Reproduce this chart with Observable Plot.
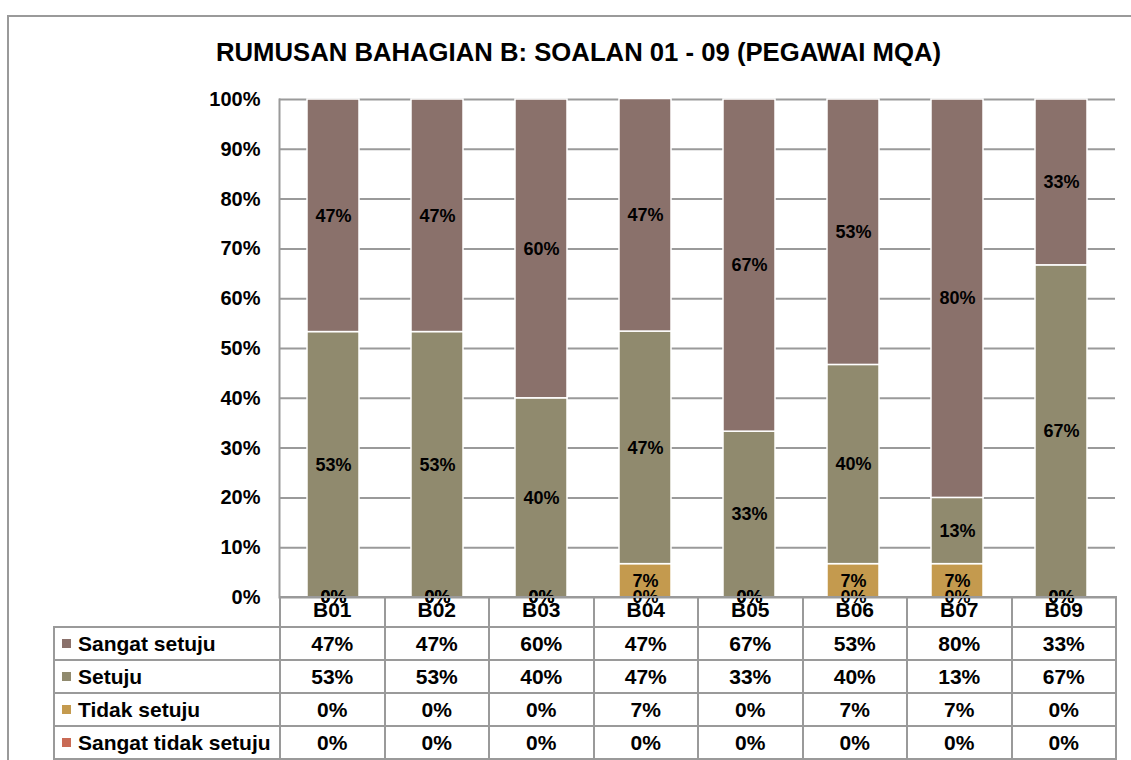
<!DOCTYPE html>
<html>
<head>
<meta charset="utf-8">
<script src="https://cdn.jsdelivr.net/npm/d3@7"></script>
<script src="https://cdn.jsdelivr.net/npm/@observablehq/plot@0.6"></script>
<style>
  html, body { margin: 0; padding: 0; background: #fff; }
  body { font-family: "Liberation Sans", Arial, sans-serif; }
  #wrap { position: relative; width: 1131px; height: 760px; overflow: hidden; }
  #frame { position: absolute; left: 7px; top: 15px; width: 1140px; height: 800px; border: 2px solid #9a9a9a; box-sizing: border-box; }
  #title { position: absolute; left: 8px; width: 1141px; top: 36px; text-align: center; font-weight: bold; font-size: 25.7px; color: #000; line-height: 32px; }
  #chart { position: absolute; left: 0; top: 0; }
  #chart svg { overflow: visible; }
  #tbl { position: absolute; left: 53px; top: 596px; border-collapse: collapse; table-layout: fixed; font-weight: bold; font-size: 21px; color: #000; }
  #tbl td { border: 2px solid #9a9a9a; padding: 0; text-align: center; white-space: nowrap; overflow: visible; }
  #tbl tr.head td { height: 26px; line-height: 20px; vertical-align: top; padding-top: 2px; padding-bottom: 0; }
  #tbl tr.head td.blank { border: none; border-bottom: 2px solid #9a9a9a; }
  #tbl tr.row td { height: 31px; }
  #tbl td.lab { text-align: left; padding-left: 7px; }
  .sw { display: inline-block; width: 9px; height: 9px; margin-right: 7px; vertical-align: 3px; }
</style>
</head>
<body>
<div id="wrap">
  <div id="frame"></div>
  <div id="chart"></div>
  <div id="title">RUMUSAN BAHAGIAN B: SOALAN 01 - 09 (PEGAWAI MQA)</div>
  <table id="tbl"></table>
</div>
<script>
const categories = ["B01", "B02", "B03", "B04", "B05", "B06", "B07", "B09"];
const seriesNames = ["Sangat setuju", "Setuju", "Tidak setuju", "Sangat tidak setuju"];
const seriesColors = ["#8a716b", "#908a6e", "#c49a4e", "#c96a55"];
const sangatSetuju = [46.7, 46.7, 60, 46.7, 66.7, 53.3, 80, 33.3];
const setuju = [53.3, 53.3, 40, 46.7, 33.3, 40, 13.3, 66.7];
const tidakSetuju = [0, 0, 0, 6.7, 0, 6.7, 6.7, 0];
const sangatTidakSetuju = [0, 0, 0, 0, 0, 0, 0, 0];
const yTicks = [0, 10, 20, 30, 40, 50, 60, 70, 80, 90, 100];

const seriesValues = [sangatSetuju, setuju, tidakSetuju, sangatTidakSetuju];

// stack bottom-to-top: Sangat tidak setuju, Tidak setuju, Setuju, Sangat setuju
const data = [];
for (let s = seriesNames.length - 1; s >= 0; s--) {
  categories.forEach((c, i) => {
    data.push({ cat: c, series: seriesNames[s], value: seriesValues[s][i] });
  });
}
const fmt = v => Math.round(v) + "%";

const plot = Plot.plot({
  width: 1131,
  height: 760,
  marginTop: 99,
  marginBottom: 163,
  marginLeft: 279,
  marginRight: 16,
  style: { fontFamily: "'Liberation Sans', Arial, sans-serif", background: "transparent", overflow: "visible" },
  x: { domain: categories, paddingInner: 0.5, paddingOuter: 0.25, axis: null },
  y: { domain: [0, 100], ticks: yTicks, tickFormat: d => d + "%", label: null },
  color: { domain: seriesNames, range: seriesColors },
  marks: [
    Plot.gridY(yTicks, { stroke: "#9a9a9a", strokeOpacity: 1, strokeWidth: 2 }),
    Plot.frame({ anchor: "left", stroke: "#9a9a9a", strokeWidth: 2 }),
    Plot.axisY(yTicks, { tickSize: 0, tickPadding: 19, tickFormat: d => d + "%", fontSize: 20, fontWeight: "bold", fill: "#000", label: null }),
    Plot.barY(data, Plot.stackY({ x: "cat", y: "value", z: "series", order: null, fill: "series", stroke: "white", strokeWidth: 1.5 })),
    Plot.text(data, Plot.stackY({ x: "cat", y: "value", z: "series", order: null, text: d => fmt(d.value), fontSize: 18, fontWeight: "bold", fill: "#000" }))
  ]
});
document.getElementById("chart").appendChild(plot);

// data table below the chart
const tbl = document.getElementById("tbl");
const colg = document.createElement("colgroup");
const firstCol = document.createElement("col");
firstCol.style.width = "226px";
colg.appendChild(firstCol);
categories.forEach(() => { const c = document.createElement("col"); c.style.width = "104.5px"; colg.appendChild(c); });
tbl.appendChild(colg);
const head = document.createElement("tr");
head.className = "head";
const blank = document.createElement("td");
blank.className = "blank";
head.appendChild(blank);
categories.forEach(c => { const td = document.createElement("td"); td.textContent = c; head.appendChild(td); });
tbl.appendChild(head);
seriesNames.forEach((name, s) => {
  const tr = document.createElement("tr");
  tr.className = "row";
  const lab = document.createElement("td");
  lab.className = "lab";
  const sw = document.createElement("span");
  sw.className = "sw";
  sw.style.background = seriesColors[s];
  lab.appendChild(sw);
  lab.appendChild(document.createTextNode(name));
  tr.appendChild(lab);
  seriesValues[s].forEach(v => { const td = document.createElement("td"); td.textContent = fmt(v); tr.appendChild(td); });
  tbl.appendChild(tr);
});
</script>
</body>
</html>
